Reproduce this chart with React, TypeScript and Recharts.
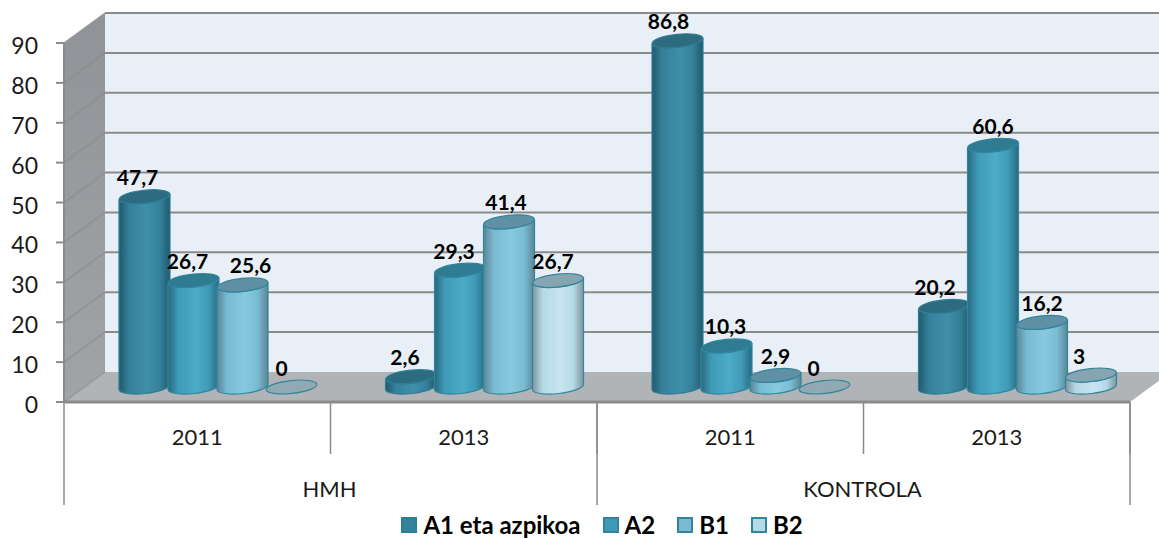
/**
 * 3D-looking cylinder column chart, two-level category axis
 */
import { BarChart, Bar, XAxis, YAxis, CartesianGrid, Legend, LabelList } from 'recharts';

const years = ['2011', '2013', '2011', '2013'];
const groups = ['HMH', 'HMH', 'KONTROLA', 'KONTROLA'];
const a1 = [47.7, 2.6, 86.8, 20.2];
const a2 = [26.7, 29.3, 10.3, 60.6];
const b1 = [25.6, 41.4, 2.9, 16.2];
const b2 = [0, 26.7, 0, 3];
const yTicks = [0, 10, 20, 30, 40, 50, 60, 70, 80, 90];

const data = years.map((year, i) => ({ year, group: groups[i], a1: a1[i], a2: a2[i], b1: b1[i], b2: b2[i] }));

const W = 1159;
const H = 539;
const FONT = 'Lato, "Open Sans", sans-serif';
// front plane of the box
const LEFT = 64;
const RIGHT = 1130;
const TOP = 43;
const BOTTOM = 402;
const BAND = (RIGHT - LEFT) / years.length;
// how far the back wall sits from the front plane
const DEPTH_X = 41;
const DEPTH_Y = 30;
const GRID = '#8b8b8b';

const looks: Record<string, { main: string; light: string; edge: string; top: string; line: string }> = {
  a1: { main: '#35809b', light: '#3f8fa9', edge: '#1f5a6d', top: '#2d6c80', line: '#2f7d94' },
  a2: { main: '#3f9ab7', light: '#4cabc8', edge: '#27697e', top: '#2f7b91', line: '#31859c' },
  b1: { main: '#78bbd2', light: '#88c9de', edge: '#5c8496', top: '#5f90a4', line: '#31859c' },
  b2: { main: '#b5d9e6', light: '#c8e4f0', edge: '#7f949d', top: '#87a5b1', line: '#31859c' },
};

// label position relative to its cylinder, rows follow the series
const labelShift: Record<string, number[]> = {
  a1: [-7, -6, -9, -9],
  a2: [-6, -6, -1, 0],
  b1: [8, -3, 0, 0],
  b2: [-10, -5, -11, -12],
};

const Defs = () => (
  <defs>
    {Object.keys(looks).map((k) => (
      <linearGradient key={k} id={`cyl-${k}`} x1="0" y1="0" x2="1" y2="0">
        <stop offset="0%" stopColor={looks[k].edge} />
        <stop offset="20%" stopColor={looks[k].main} />
        <stop offset="55%" stopColor={looks[k].light} />
        <stop offset="80%" stopColor={looks[k].main} />
        <stop offset="100%" stopColor={looks[k].edge} />
      </linearGradient>
    ))}
    <linearGradient id="side-wall" x1="0" y1="0" x2="0" y2="1">
      <stop offset="0%" stopColor="#909397" />
      <stop offset="100%" stopColor="#a1a4a7" />
    </linearGradient>
  </defs>
);

const Walls = () => (
  <g>
    <rect x={LEFT + DEPTH_X} y={TOP - DEPTH_Y} width={W} height={BOTTOM - TOP} fill="#e8eff6" />
    <polygon
      points={`${LEFT},${TOP} ${LEFT + DEPTH_X},${TOP - DEPTH_Y} ${LEFT + DEPTH_X},${BOTTOM - DEPTH_Y} ${LEFT},${BOTTOM}`}
      fill="url(#side-wall)"
    />
    <polygon
      points={`${LEFT},${BOTTOM} ${LEFT + DEPTH_X},${BOTTOM - DEPTH_Y} ${RIGHT + DEPTH_X},${BOTTOM - DEPTH_Y} ${RIGHT},${BOTTOM}`}
      fill="#b1b4b7"
    />
  </g>
);

// one value line: runs up the side wall, then across the back wall.
// the grid is the lowest layer of the chart, so the walls go in with its first line
const wallLine = (props: any) => {
  const { x1, x2, y1, index } = props;
  const bx = x1 + DEPTH_X;
  const by = y1 - DEPTH_Y;
  return (
    <g key={`line-${index}`}>
      {index === 0 && <Walls />}
      <line x1={x1} y1={y1} x2={bx} y2={by} stroke={GRID} strokeWidth={1.5} opacity={0.7} />
      {y1 < BOTTOM - 1 && <line x1={bx} y1={by} x2={x2 + DEPTH_X} y2={by} stroke={GRID} strokeWidth={2} />}
    </g>
  );
};

const Cylinder = (props: any) => {
  const { x, y, width, height, seriesKey } = props;
  const look = looks[seriesKey];
  const rx = width / 2 - 0.5;
  const ry = 6.5;
  const tilt = 2.7;
  // halfway into the box
  const cx = x + width / 2 + DEPTH_X / 2;
  const topY = y - DEPTH_Y / 2;
  const baseY = topY + height;
  const rot = -6;
  const body =
    `M${cx - rx},${topY + tilt} L${cx - rx},${baseY + tilt} ` +
    `A${rx},${ry} ${rot} 0 0 ${cx + rx},${baseY - tilt} L${cx + rx},${topY - tilt} ` +
    `A${rx},${ry} ${rot} 0 1 ${cx - rx},${topY + tilt} Z`;
  return (
    <g>
      {height > 0 && <path d={body} fill={`url(#cyl-${seriesKey})`} stroke={look.line} strokeWidth={1.2} />}
      <ellipse
        cx={cx}
        cy={topY}
        rx={rx}
        ry={ry}
        transform={`rotate(${rot} ${cx} ${topY})`}
        fill={look.top}
        fillOpacity={height > 0 ? 1 : 0.75}
        stroke={look.line}
        strokeWidth={1.2}
      />
    </g>
  );
};

const makeLabel = (seriesKey: string) => (props: any) => {
  const { x, y, width, value, index } = props;
  const cx = x + width / 2 + DEPTH_X / 2 + labelShift[seriesKey][index];
  return (
    <text
      x={cx}
      y={y - DEPTH_Y / 2 - 20}
      textAnchor="middle"
      dominantBaseline="central"
      fontFamily={FONT}
      fontSize={21}
      fontWeight={700}
      fill="#000"
    >
      {String(value).replace('.', ',')}
    </text>
  );
};

const CategoryTick = (props: any) => {
  const { x, payload, index } = props;
  const isGroupStart = index % 2 === 0;
  const isLast = index === years.length - 1;
  return (
    <g>
      <line x1={x + BAND / 2} y1={BOTTOM} x2={x + BAND / 2} y2={BOTTOM + 52} stroke={GRID} strokeWidth={1.5} />
      <text x={x} y={436} textAnchor="middle" dominantBaseline="central" fontFamily={FONT} fontSize={22} fill="#1a1a1a">
        {payload.value}
      </text>
      {isGroupStart && (
        <>
          <line x1={x - BAND / 2} y1={BOTTOM} x2={x - BAND / 2} y2={BOTTOM + 103} stroke={GRID} strokeWidth={1.5} />
          <text x={x + BAND / 2 - 1} y={488} textAnchor="middle" dominantBaseline="central" fontFamily={FONT} fontSize={22} fill="#1a1a1a">
            {groups[index]}
          </text>
        </>
      )}
      {isLast && <line x1={x + BAND / 2} y1={BOTTOM} x2={x + BAND / 2} y2={BOTTOM + 103} stroke={GRID} strokeWidth={1.5} />}
    </g>
  );
};

const ValueTick = (props: any) => {
  const { x, y, payload } = props;
  return (
    <text x={x} y={y + 2} textAnchor="end" dominantBaseline="central" fontFamily={FONT} fontSize={23} fill="#1a1a1a">
      {payload.value}
    </text>
  );
};

const seriesList = [
  { key: 'a1', name: 'A1 eta azpikoa' },
  { key: 'a2', name: 'A2' },
  { key: 'b1', name: 'B1' },
  { key: 'b2', name: 'B2' },
];

const LegendRow = () => (
  <div style={{ height: 30, lineHeight: '30px', display: 'flex', justifyContent: 'center', alignItems: 'center', gap: 22, fontFamily: FONT, fontWeight: 700, fontSize: 24, color: '#000', transform: 'translate(37px, 5px)' }}>
    {seriesList.map((s) => (
      <span key={s.key} style={{ display: 'flex', alignItems: 'center', gap: 6 }}>
        <span style={{ width: 12, height: 12, background: looks[s.key].main, border: `2px solid ${looks[s.key].line}`, display: 'inline-block' }} />
        {s.name}
      </span>
    ))}
  </div>
);

export default function App() {
  return (
    <div style={{ position: 'absolute', left: 0, top: 0, width: W, height: H, overflow: 'hidden', background: '#fff' }}>
      <BarChart
        width={W}
        height={H}
        data={data}
        barSize={52}
        barGap={-3}
        margin={{ top: TOP, right: W - RIGHT, bottom: 0, left: 0 }}
      >
        <Defs />
        <CartesianGrid vertical={false} horizontal={wallLine} />
        <XAxis
          dataKey="year"
          height={103}
          interval={0}
          tickLine={false}
          axisLine={{ stroke: GRID, strokeWidth: 3 }}
          tick={<CategoryTick />}
        />
        <YAxis
          width={LEFT}
          domain={[0, 90]}
          ticks={yTicks}
          interval={0}
          tickSize={8}
          tickMargin={18}
          axisLine={{ stroke: GRID, strokeWidth: 2 }}
          tickLine={{ stroke: GRID, strokeWidth: 2 }}
          tick={<ValueTick />}
        />
        <Legend content={<LegendRow />} height={34} verticalAlign="bottom" />
        {seriesList.map((s) => (
          <Bar
            key={s.key}
            dataKey={s.key}
            name={s.name}
            fill={looks[s.key].main}
            isAnimationActive={false}
            shape={(p: any) => <Cylinder {...p} seriesKey={s.key} />}
          >
            <LabelList dataKey={s.key} content={makeLabel(s.key)} />
          </Bar>
        ))}
      </BarChart>
    </div>
  );
}
